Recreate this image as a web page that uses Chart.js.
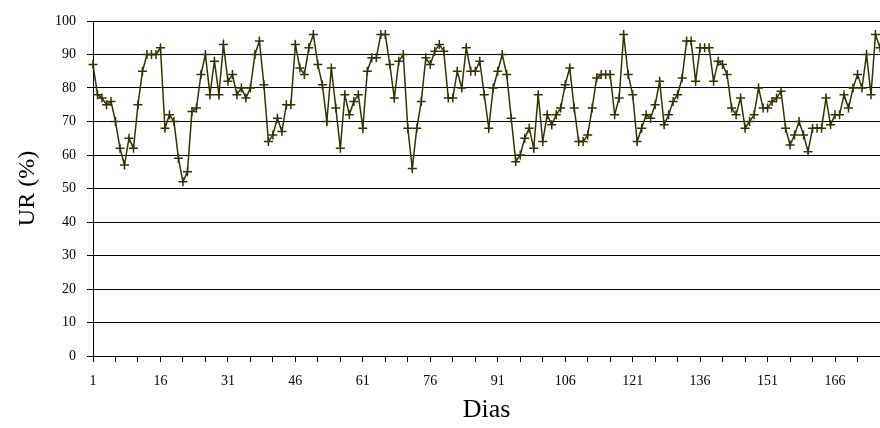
<!DOCTYPE html>
<html lang="pt">
  <head>
    <meta charset="UTF-8" />
    <title>UR (%) por dia</title>
    <script src="https://cdn.jsdelivr.net/npm/chart.js"></script>
    <style>
      body { margin: 0; background: #fff; }
      #wrap { width: 880px; height: 428px; }
    </style>
  </head>
  <body>
    <div id="wrap">
      <canvas id="urChart"></canvas>
    </div>
    <script>
      // umidade relativa diaria (%)
      const ur = [
        87, 78, 77, 75, 76, 70, 62, 57, 65, 62, 75, 85, 90, 90, 90, 92,
        68, 72, 70, 59, 52, 55, 73, 74, 84, 90, 78, 88, 78, 93,
        82, 84, 78, 80, 77, 80, 90, 94, 81, 64, 66, 71, 67, 75, 75,
        93, 86, 84, 92, 96, 87, 81, 70, 86, 74, 62, 78, 72, 76, 78,
        68, 85, 89, 89, 96, 96, 87, 77, 88, 90, 68, 56, 68, 76, 89,
        87, 91, 93, 91, 77, 77, 85, 80, 92, 85, 85, 88, 78, 68, 80,
        85, 90, 84, 71, 58, 60, 65, 68, 62, 78, 64, 72, 69, 72,
        74, 81, 86, 74, 64, 64, 66, 74, 83, 84, 84, 84,
        72, 77, 96, 84, 78, 64, 68, 72, 71, 75, 82, 69, 72, 76,
        78, 83, 94, 94, 82, 92, 92, 92, 82, 88, 87, 84, 74, 72, 77,
        68, 70, 72, 80, 74, 74, 76, 77, 79, 68, 63, 66, 70, 66,
        61, 68, 68, 68, 77, 69, 72, 72, 78, 74, 80, 84, 80, 90, 78,
        96, 92
      ];
      const dias = ur.map((v, i) => String(i + 1));
      const labelEvery = 15;
      const tickEvery = 5;

      const serif = "'Liberation Serif', 'Times New Roman', serif";
      const ink = "#333300";

      const ctx = document.getElementById("urChart").getContext("2d");
      const chart = new Chart(ctx, {
        type: "line",
        data: {
          labels: dias,
          datasets: [
            {
              label: "UR (%)",
              data: ur,
              borderColor: ink,
              borderWidth: 1.5,
              pointStyle: "cross",
              pointRadius: 4.5,
              pointBorderColor: ink,
              pointBorderWidth: 1.5,
              tension: 0,
              clip: false,
            },
          ],
        },
        options: {
          responsive: true,
          maintainAspectRatio: false,
          animation: false,
          layout: { autoPadding: false, padding: { top: 21, right: 0, left: 0, bottom: 0 } },
          plugins: { legend: { display: false }, tooltip: { enabled: false } },
          scales: {
            x: {
              type: "category",
              offset: false,
              // plot runs right up to the edge of the picture
              afterFit: (s) => { s.height = 72; s.paddingRight = 0; s.paddingLeft = 0; },
              grid: {
                drawOnChartArea: false,
                drawTicks: true,
                tickLength: 6,
                color: (c) => (c.index % tickEvery === 0 ? "#000" : "rgba(0,0,0,0)"),
              },
              border: { color: "#000", width: 1 },
              ticks: {
                autoSkip: false,
                maxRotation: 0,
                minRotation: 0,
                padding: 11,
                color: "#000",
                font: { family: serif, size: 14 },
                callback: function (val, i) {
                  return i % labelEvery === 0 ? this.getLabelForValue(val) : "";
                },
              },
              title: {
                display: true,
                text: "Dias",
                color: "#000",
                font: { family: serif, size: 26 },
                padding: { top: 0, bottom: 2 },
              },
            },
            y: {
              min: 0,
              max: 100,
              afterFit: (s) => { s.width = 93; },
              grid: { color: "#000", lineWidth: 1, tickLength: 6 },
              border: { color: "#000", width: 1 },
              ticks: {
                stepSize: 10,
                padding: 11,
                color: "#000",
                font: { family: serif, size: 14 },
              },
              title: {
                display: true,
                text: "UR (%)",
                color: "#000",
                font: { family: serif, size: 24 },
                padding: { top: 13, bottom: 0 },
              },
            },
          },
        },
      });
    </script>
  </body>
</html>
